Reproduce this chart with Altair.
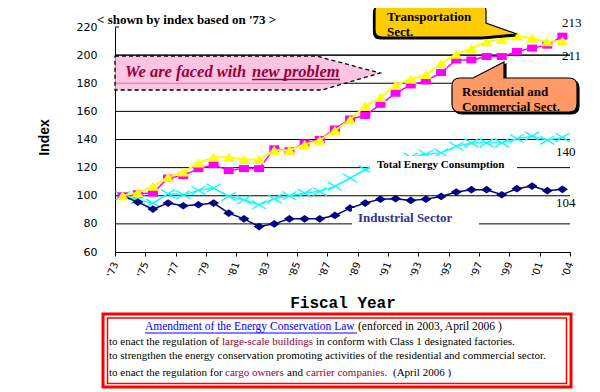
import json
import altair as alt
import pandas as pd

# ---------------- data ----------------
tick_labels = ["'73", "'75", "'77", "'79", "'81", "'83", "'85", "'87",
               "'89", "'91", "'93", "'95", "'97", "'99", "'01", "'04"]
y_ticks = [60, 80, 100, 120, 140, 160, 180, 200, 220]
grid_values = [80, 100, 120, 140, 160, 180, 200]

industrial = [100, 95.5, 90.5, 94.8, 92.9, 93.6, 94.8, 87.6, 83.6, 78.1,
              80, 83.6, 83.6, 83.6, 86, 91.2, 94.8, 97.6, 97.9, 96.7,
              97.6, 99.5, 102.6, 104.3, 104.3, 100.7, 105, 106.9, 103.6, 104.6]
total = [100, 97.1, 94.8, 101.4, 100.7, 103.8, 105.5, 99.5, 97.1, 93.6,
         97.9, 100, 101.9, 103.1, 106.7, 112.6, 118.6, 121.5, 124.5, 127.5,
         129.5, 130.5, 135.2, 137.6, 137.6, 137.6, 140.7, 142.4, 139.5, 141.5]
residential = [100, 101.4, 101.9, 112.6, 114.3, 119.3, 122.1, 117.9, 119.3, 119.3,
               133.4, 132, 137.6, 140, 147.5, 154.6, 157.1, 165, 172.9, 178.8,
               181.6, 187.6, 196.6, 196.6, 199, 199, 202.6, 205, 207.1, 213.5]
transport = [100, 102.2, 106.7, 113.1, 116.9, 123.3, 127.4, 127.4, 125.7, 125.7,
             132.4, 132.4, 136.4, 139.5, 146.4, 154, 163.8, 169.8, 178.6, 182.9,
             186.2, 194, 200.7, 204.8, 209.5, 211.2, 213.6, 212, 209.5, 210]

series = {"tot": total, "ind": industrial, "res": residential, "tra": transport}

rows = []
for key, vals in series.items():
    for i, v in enumerate(vals):
        rows.append({"series": key, "x": i + 0.5, "v": v})
df = pd.DataFrame(rows)

# ---------------- layout helpers ----------------
OX, OY = 115, 27          # page position of plot origin
W, H = 455, 225
one = alt.Data(values=[{"a": 1}])


def px(x):
    return x - OX


def py(y):
    return y - OY


xenc = alt.X("x:Q", scale=alt.Scale(domain=[0, 30], nice=False, zero=False),
             axis=alt.Axis(values=list(range(0, 31, 2)),
                           labelExpr=f"{json.dumps(tick_labels)}[round(datum.value/2)]",
                           labelAngle=290, labelFont="DejaVu Sans", labelFontSize=10,
                           labelColor="black", labelPadding=6, labelFlush=False,
                           labelOverlap=False, tickSize=4, tickColor="black",
                           domainColor="black", grid=False,
                           title="Fiscal Year", titleFont="Liberation Mono",
                           titleFontSize=16, titleFontWeight="bold", titleColor="black",
                           titleY=50, titleBaseline="middle"))
yenc = alt.Y("v:Q", scale=alt.Scale(domain=[60, 220], nice=False, zero=False),
             axis=alt.Axis(values=y_ticks, grid=False, ticks=False,
                           labelFont="DejaVu Sans", labelFontSize=11, labelColor="black",
                           labelPadding=18, labelFlush=False, labelOverlap=False,
                           domainColor="black",
                           title="Index", titleFont="Liberation Sans", titleFontWeight="bold",
                           titleFontSize=14, titleColor="black", titleAngle=270,
                           titleX=-71, titleY=110, titleAlign="center",
                           titleBaseline="middle"))


def txt(s, x, y, size, color="black", weight="normal", style="normal",
        font="Liberation Serif", align="left"):
    return alt.Chart(one).mark_text(
        text=s, font=font, fontSize=size, fontWeight=weight, fontStyle=style,
        color=color, align=align, baseline="middle"
    ).encode(x=alt.value(px(x)), y=alt.value(py(y)))


def rect(x1, x2, y1, y2, fill="white", stroke="transparent", sw=0, fo=1):
    return alt.Chart(one).mark_rect(fill=fill, stroke=stroke, strokeWidth=sw,
                                    fillOpacity=fo).encode(
        x=alt.value(px(x1)), x2=alt.value(px(x2)),
        y=alt.value(py(y1)), y2=alt.value(py(y2)))


def hline(x1, x2, y, color="black", sw=1):
    return alt.Chart(one).mark_rule(color=color, strokeWidth=sw).encode(
        x=alt.value(px(x1)), x2=alt.value(px(x2)), y=alt.value(py(y)))


def shape(path, fill, stroke="black", sw=1.2, dash=None, fo=1, dx=0, dy=0):
    kw = dict(shape=path, size=4, filled=True, fill=fill, stroke=stroke,
              strokeWidth=sw, opacity=1, fillOpacity=fo)
    if dash:
        kw["strokeDash"] = dash
    return alt.Chart(one).mark_point(**kw).encode(x=alt.value(dx), y=alt.value(dy))


def path_from(cmds):
    out = []
    for c in cmds:
        if c[0] == "Z":
            out.append("Z")
        else:
            op = c[0]
            coords = " ".join(f"{px(a):.1f},{py(b):.1f}" for a, b in c[1:])
            out.append(op + coords)
    return "".join(out)


# ---------------- layers ----------------
layers = []
layers.append(alt.Chart(pd.DataFrame({"v": grid_values})).mark_rule(
    color="black", strokeWidth=1).encode(y=yenc, x=alt.value(0), x2=alt.value(W)))
layers.append(alt.Chart(one).mark_rule(color="black").encode(
    x=alt.value(0), x2=alt.value(4), y=alt.value(0)))

# banner
banner = path_from([("M", (115, 56.25)), ("L", (317, 56.25)), ("L", (380, 73)),
                    ("L", (322, 90)), ("L", (115, 90)), ("Z",)])
layers.append(shape(banner, "#ffb0d8", sw=1.3, dash=[4, 3], fo=0.75))
layers.append(alt.Chart(pd.DataFrame({"v": [200]})).mark_rule(
    color="black", strokeWidth=1).encode(y=yenc, x=alt.value(0), x2=alt.value(W)))
layers.append(txt("We are faced with ", 125, 72, 16.5, color="#99003d",
                  weight="bold", style="italic"))
layers.append(txt("new problem", 252, 72, 16.5, color="#99003d",
                  weight="bold", style="italic"))
layers.append(hline(252, 340, 79.5, color="#99003d", sw=1.5))

# series
diamond = "M0,-0.7L1,0L0,0.7L-1,0Z"
square = "M-1,-0.7L1,-0.7L1,0.7L-1,0.7Z"
triangle = "M0,-0.75L1,0.75L-1,0.75Z"
xcross = "M-1,-0.6L1,0.6M-1,0.6L1,-0.6"


def series_layer(key, color, sw):
    base = alt.Chart(df).transform_filter(alt.datum.series == key)
    return base.mark_line(color=color, strokeWidth=sw).encode(x=xenc, y=yenc)


layers.append(series_layer("tot", "#00ffff", 1.3))
layers.append(alt.Chart(df).transform_filter(alt.datum.series == "tot").mark_point(
    shape=xcross, size=196, filled=False, color="#00ffff", strokeWidth=1.3,
    opacity=1).encode(x=xenc, y=yenc))
layers.append(series_layer("ind", "#000080", 1.5))
layers.append(alt.Chart(df).transform_filter(alt.datum.series == "ind").mark_point(
    shape=diamond, size=121, filled=True, color="#000080", opacity=1).encode(x=xenc, y=yenc))
layers.append(series_layer("res", "#ff00ff", 1.5))
layers.append(alt.Chart(df).transform_filter(alt.datum.series == "res").mark_point(
    shape=square, size=100, filled=True, color="#ff00ff", opacity=1).encode(x=xenc, y=yenc))
layers.append(series_layer("tra", "#ffff00", 2))
layers.append(alt.Chart(df).transform_filter(alt.datum.series == "tra").mark_point(
    shape=triangle, size=144, filled=True, color="#ffff00", opacity=1).encode(x=xenc, y=yenc))

# series labels with white boxes
layers.append(rect(370, 517, 156, 174))
layers.append(txt("Total Energy Consumption", 377, 165, 11, weight="bold"))
layers.append(rect(352, 479, 208, 230))
layers.append(txt("Industrial Sector", 358, 218, 13, color="#333399", weight="bold"))

layers.append(txt("213", 562, 23, 13))
layers.append(txt("211", 562, 56, 13))
layers.append(txt("140", 556, 152, 13))
layers.append(txt("104", 556, 203, 13))

# callouts
tcall = [("M", (382, 4)), ("L", (479, 4)), ("Q", (486, 4), (486, 11)), ("L", (486, 23)),
         ("L", (517, 34)), ("L", (483, 37)), ("L", (382, 37)), ("Q", (375, 37), (375, 30)),
         ("L", (375, 11)), ("Q", (375, 4), (382, 4)), ("Z",)]
layers.append(shape(path_from(tcall), "black", dx=-1.5, dy=2))
layers.append(shape(path_from(tcall), "#ffcc00"))
layers.append(txt("Transportation", 387, 17, 13, weight="bold"))
layers.append(txt("Sect.", 387, 32, 13, weight="bold"))

rcall = [("M", (460, 78)), ("L", (473, 78)), ("L", (504, 62)), ("L", (504, 78)),
         ("L", (569, 78)), ("Q", (577, 78), (577, 86)), ("L", (577, 104)),
         ("Q", (577, 112), (569, 112)), ("L", (460, 112)), ("Q", (452, 112), (452, 104)),
         ("L", (452, 86)), ("Q", (452, 78), (460, 78)), ("Z",)]
layers.append(shape(path_from(rcall), "black", dx=2, dy=2))
layers.append(shape(path_from(rcall), "#ff9966"))
layers.append(txt("Residential and", 462, 92, 13, weight="bold"))
layers.append(txt("Commercial Sect.", 462, 107, 13, weight="bold"))

# title
layers.append(txt("< shown by index based on '73 >", 97, 20, 13, weight="bold"))

# bottom box
layers.append(rect(103, 571, 314, 387, fill="white", stroke="#ff0000", sw=3))
layers.append(rect(107.5, 566.5, 318, 383.5, fill="white", stroke="#ff0000", sw=1.5, fo=0))
red = "#990033"
fs = 11
layers.append(txt("Amendment of the Energy Conservation Law", 145, 327, 11.5, color="#0000ff"))
layers.append(hline(145, 357, 333, color="#0000ff", sw=1))
layers.append(txt("(enforced in 2003, April 2006 )", 358, 327, 11.5))
layers.append(txt("to enact the regulation of", 109, 342, fs))
layers.append(txt("large-scale buildings", 222, 342, fs, color=red))
layers.append(txt("in conform with Class 1 designated factories.", 316, 342, fs))
layers.append(txt("to strengthen the energy conservation promoting activities of the residential and commercial sector.",
                  109, 356, fs))
layers.append(txt("to enact the regulation for", 109, 373, fs))
layers.append(txt("cargo owners", 225, 373, fs, color=red))
layers.append(txt("and", 287, 373, fs))
layers.append(txt("carrier companies.", 306, 373, fs, color=red))
layers.append(txt("(April 2006 )", 393, 373, fs))

chart = alt.layer(*layers).properties(
    width=W, height=H,
    padding={"left": OX - 8, "top": OY - 8, "right": 20, "bottom": 137},
    autosize=alt.AutoSizeParams(type="none"),
    background="white",
).configure_view(stroke="transparent")

chart.save("out.html", embed_options={"renderer": "svg", "actions": False})
